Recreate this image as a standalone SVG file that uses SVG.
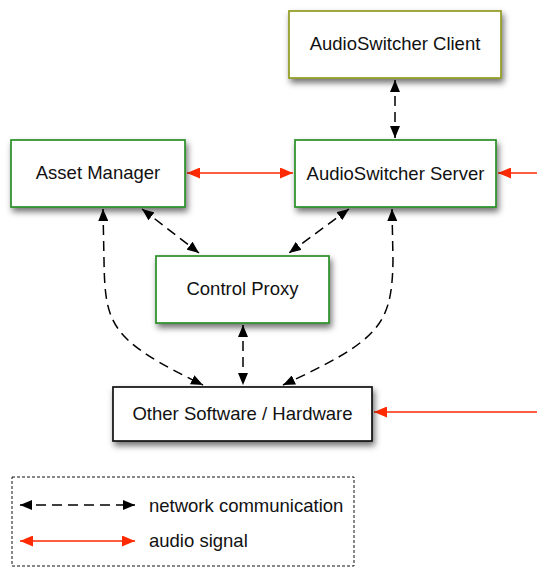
<svg xmlns="http://www.w3.org/2000/svg" width="537" height="567" viewBox="0 0 537 567">
<style>
.box{fill:#fff;stroke-width:1.7}
.g{stroke:#2a8f26}
.o{stroke:#8f9a1e}
.k{stroke:#111}
text{font-family:"Liberation Sans",Arial,sans-serif;font-size:18.5px;fill:#111}
.lbl{text-anchor:middle}
.net{fill:none;stroke:#000;stroke-width:1.5;stroke-dasharray:10,6;marker-start:url(#bs);marker-end:url(#be)}
.aud{fill:none;stroke:#ff2a00;stroke-width:1.5}
</style>
<defs>
<filter id="sh" x="-20%" y="-20%" width="140%" height="150%">
<feDropShadow dx="2" dy="4" stdDeviation="3" flood-color="#000" flood-opacity="0.55"/>
</filter>
<marker id="be" viewBox="0 0 12 10" refX="12" refY="5" markerWidth="12" markerHeight="10" markerUnits="userSpaceOnUse" orient="auto"><path d="M0,0L12,5L0,10z" fill="#000"/></marker>
<marker id="bs" viewBox="0 0 12 10" refX="0" refY="5" markerWidth="12" markerHeight="10" markerUnits="userSpaceOnUse" orient="auto"><path d="M12,0L0,5L12,10z" fill="#000"/></marker>
<marker id="re" viewBox="0 0 13 11" refX="13" refY="5.5" markerWidth="13" markerHeight="11" markerUnits="userSpaceOnUse" orient="auto"><path d="M0,0L13,5.5L0,11z" fill="#ff2a00"/></marker>
<marker id="rs" viewBox="0 0 13 11" refX="0" refY="5.5" markerWidth="13" markerHeight="11" markerUnits="userSpaceOnUse" orient="auto"><path d="M13,0L0,5.5L13,11z" fill="#ff2a00"/></marker>
</defs>
<g id="connectors">
<path class="net" d="M395,80L395,138"/>
<path class="net" d="M142,209L199,253"/>
<path class="net" d="M349,209L289,253"/>
<path class="net" d="M243,325L243,385"/>
<path class="net" d="M103,209L104,260C105,325 110,340 203,385"/>
<path class="net" d="M392,209L393,260C392,325 380,340 283,385"/>
<path class="aud" d="M187,173L293,173" marker-start="url(#rs)" marker-end="url(#re)"/>
<path class="aud" d="M537,173L498,173" marker-end="url(#re)"/>
<path class="aud" d="M537,412L374,412" marker-end="url(#re)"/>
</g>
<g id="client"><rect class="box o" x="289" y="11" width="212" height="67" filter="url(#sh)"/><text class="lbl" x="395" y="50">AudioSwitcher Client</text></g>
<g id="server"><rect class="box g" x="295" y="140" width="201" height="67" filter="url(#sh)"/><text class="lbl" x="395.5" y="180">AudioSwitcher Server</text></g>
<g id="asset"><rect class="box g" x="11" y="140" width="174" height="67" filter="url(#sh)"/><text class="lbl" x="98" y="179">Asset Manager</text></g>
<g id="proxy"><rect class="box g" x="156" y="256" width="173" height="67" filter="url(#sh)"/><text class="lbl" x="242.5" y="295">Control Proxy</text></g>
<g id="other"><rect class="box k" x="113" y="387" width="259" height="54" filter="url(#sh)"/><text class="lbl" x="242.5" y="420">Other Software / Hardware</text></g>
<g id="legend">
<rect x="12" y="477" width="342" height="89" fill="none" stroke="#111" stroke-width="1" stroke-dasharray="3,2"/>
<path class="net" d="M20,505L135,505"/>
<path class="aud" d="M20,541L135,541" marker-start="url(#rs)" marker-end="url(#re)"/>
<text x="149" y="512">network communication</text>
<text x="149" y="547">audio signal</text>
</g>
</svg>
